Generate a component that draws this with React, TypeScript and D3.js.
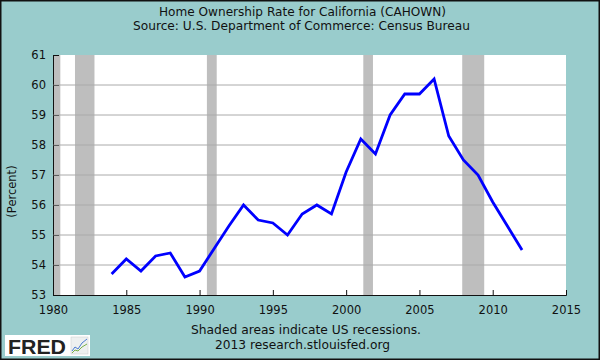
import React, { useEffect, useRef } from 'react';
import * as d3 from 'd3';

const years = [1984, 1985, 1986, 1987, 1988, 1989, 1990, 1991, 1992, 1993, 1994, 1995, 1996, 1997, 1998,
  1999, 2000, 2001, 2002, 2003, 2004, 2005, 2006, 2007, 2008, 2009, 2010, 2011, 2012];
const rates = [53.7, 54.2, 53.8, 54.3, 54.4, 53.6, 53.8, 54.55, 55.3, 56.0, 55.5, 55.4, 55.0, 55.7, 56.0,
  55.7, 57.1, 58.2, 57.7, 59.0, 59.7, 59.7, 60.2, 58.3, 57.5, 57.0, 56.1, 55.3, 54.5];

// recession start / end as decimal years
const recessionStarts = [1980.0, 1981.5, 1990.5, 2001.17, 2007.92];
const recessionEnds = [1980.5, 1982.83, 1991.17, 2001.83, 2009.42];

const xTicks = [1980, 1985, 1990, 1995, 2000, 2005, 2010, 2015];
const yTicks = [53, 54, 55, 56, 57, 58, 59, 60, 61];

const titleText = 'Home Ownership Rate for California (CAHOWN)';
const subtitleText = 'Source: U.S. Department of Commerce: Census Bureau';
const footerLines = ['Shaded areas indicate US recessions.', '2013 research.stlouisfed.org'];

const W = 600;
const H = 360;

const App = () => {
  const svgRef = useRef<SVGSVGElement>(null);

  useEffect(() => {
    const svg = d3.select(svgRef.current);
    svg.selectAll('*').remove();

    const font = '"DejaVu Sans", Verdana, sans-serif';
    const ink = '#111';
    const left = 53, right = 566, top = 55, bottom = 295;

    const x = d3.scaleLinear().domain([1980, 2015]).range([left, right]);
    const y = d3.scaleLinear().domain([53, 61]).range([bottom, top]);

    svg.append('rect').attr('width', W).attr('height', H).attr('fill', '#99cccc');
    svg.append('rect')
      .attr('x', 0.75).attr('y', 0.75).attr('width', W - 1.5).attr('height', H - 1.5)
      .attr('fill', 'none').attr('stroke', ink).attr('stroke-width', 1.5);

    const label = (txt: string, cx: number, by: number, len: number) =>
      svg.append('text')
        .attr('x', cx).attr('y', by).attr('text-anchor', 'middle')
        .attr('font-family', font).attr('font-size', 11.5).attr('fill', ink)
        .attr('textLength', len).attr('lengthAdjust', 'spacingAndGlyphs')
        .text(txt);

    label(titleText, 302.5, 15.5, 287);
    label(subtitleText, 301.5, 30, 337);

    // plot background
    svg.append('rect')
      .attr('x', left).attr('y', top).attr('width', right - left).attr('height', bottom - top)
      .attr('fill', '#fff');

    // recessions
    svg.selectAll('.rec')
      .data(recessionStarts)
      .join('rect')
      .attr('class', 'rec')
      .attr('x', d => x(d))
      .attr('width', (d, i) => x(recessionEnds[i]) - x(d))
      .attr('y', top)
      .attr('height', bottom - top)
      .attr('fill', '#bebebe');

    // left axis
    svg.append('g')
      .attr('transform', `translate(${left},0)`)
      .call(d3.axisLeft(y).tickValues(yTicks).tickSize(-6).tickPadding(7).tickFormat(d3.format('d')))
      .call(g => g.select('.domain').attr('stroke', ink))
      .call(g => g.selectAll('.tick line').attr('stroke', ink))
      .call(g => g.selectAll('.tick text')
        .attr('font-family', font).attr('font-size', 11.5).attr('fill', ink));

    // gridlines
    svg.selectAll('.grid')
      .data(yTicks.slice(1, -1))
      .join('line')
      .attr('class', 'grid')
      .attr('x1', left + 0.5).attr('x2', right)
      .attr('y1', d => y(d)).attr('y2', d => y(d))
      .attr('stroke', '#aaaaaa').attr('stroke-width', 1);

    // bottom axis
    svg.append('g')
      .attr('transform', `translate(0,${bottom})`)
      .call(d3.axisBottom(x).tickValues(xTicks).tickSize(-5).tickPadding(4).tickFormat(d3.format('d')))
      .call(g => g.select('.domain').attr('stroke', ink))
      .call(g => g.selectAll('.tick line').attr('stroke', ink))
      .call(g => g.selectAll('.tick text')
        .attr('font-family', font).attr('font-size', 11.5).attr('fill', ink)
        .attr('y', 19).attr('dy', 0));

    const line = d3.line<number>()
      .x((d, i) => x(years[i]))
      .y(d => y(d));

    svg.append('path')
      .datum(rates)
      .attr('d', line)
      .attr('fill', 'none')
      .attr('stroke', '#0000ff')
      .attr('stroke-width', 2.8)
      .attr('stroke-linejoin', 'miter');

    svg.append('text')
      .attr('transform', `translate(15.5,191.5) rotate(-90)`)
      .attr('text-anchor', 'middle')
      .attr('font-family', font).attr('font-size', 11.5).attr('fill', ink)
      .text('(Percent)');

    label(footerLines[0], 306, 334, 230);
    label(footerLines[1], 302.5, 349, 175);

    // FRED logo
    const logo = svg.append('g').attr('transform', 'translate(5,335)');
    logo.append('rect').attr('width', 85).attr('height', 21).attr('fill', '#fff');
    logo.append('text')
      .attr('x', 3).attr('y', 19)
      .attr('font-family', '"Liberation Sans", Arial, sans-serif')
      .attr('font-weight', 'bold').attr('font-size', 21).attr('fill', '#222')
      .attr('textLength', 58).attr('lengthAdjust', 'spacingAndGlyphs')
      .text('FRED');
    logo.append('rect').attr('x', 66).attr('y', 2).attr('width', 17).attr('height', 17)
      .attr('fill', '#eef0f0').attr('stroke', '#ccc').attr('stroke-width', 0.5);
    logo.append('polyline')
      .attr('points', '67,16 70,12 73,14 77,8 82,4')
      .attr('fill', 'none').attr('stroke', '#4a7bd0').attr('stroke-width', 1);
    logo.append('polyline')
      .attr('points', '67,18 70,15 73,16 77,12 82,9')
      .attr('fill', 'none').attr('stroke', '#7bb04a').attr('stroke-width', 1);
  }, []);

  return (
    <div style={{ position: 'absolute', left: 0, top: 0, width: W, height: H }}>
      <svg ref={svgRef} width={W} height={H} style={{ display: 'block' }}></svg>
    </div>
  );
};

export default App;
